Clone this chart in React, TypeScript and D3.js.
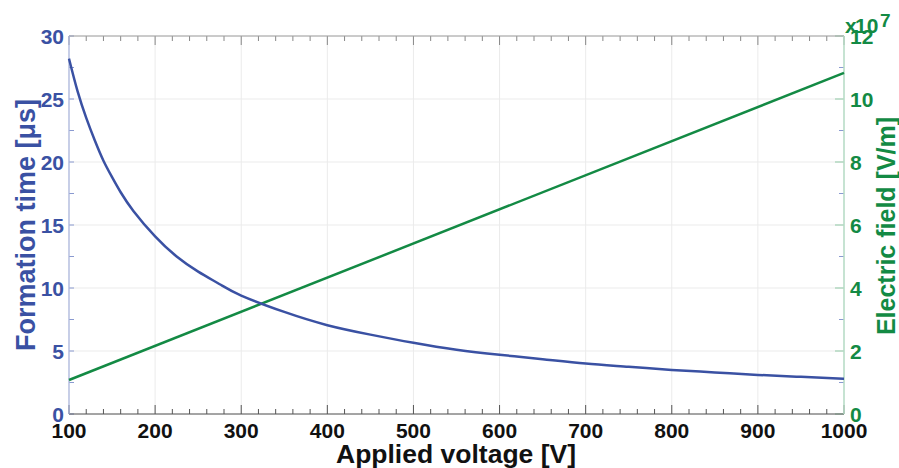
import React from 'react';
import * as d3 from 'd3';

// formation time vs applied voltage
const voltage = [100, 110, 120, 130, 140, 150, 160, 175, 200, 225, 250, 275, 300, 350, 400, 450, 500, 550, 600, 650, 700, 750, 800, 850, 900, 950, 1000];
const formationTime = [28.2, 25.6, 23.5, 21.7, 20.1, 18.8, 17.6, 16.1, 14.1, 12.5, 11.3, 10.3, 9.4, 8.1, 7.05, 6.3, 5.65, 5.1, 4.7, 4.35, 4.0, 3.75, 3.5, 3.3, 3.1, 2.95, 2.8];

// electric field (x1e7 V/m)
const fieldVoltage = [100, 1000];
const electricField = [1.08, 10.83];

const xTicks = [100, 200, 300, 400, 500, 600, 700, 800, 900, 1000];
const leftTicks = [0, 5, 10, 15, 20, 25, 30];
const rightTicks = [0, 2, 4, 6, 8, 10, 12];

const W = 899, H = 468;
const m = { left: 69, right: 844, top: 36, bottom: 414 };
const BLUE = '#3a51a3';
const GREEN = '#138a44';
const FONT = '"Liberation Sans", Arial, sans-serif';

export default function App() {
  const x = d3.scaleLinear().domain([100, 1000]).range([m.left, m.right]);
  const yL = d3.scaleLinear().domain([0, 30]).range([m.bottom, m.top]);
  const yR = d3.scaleLinear().domain([0, 12]).range([m.bottom, m.top]);

  const timeLine = d3.line<number>()
    .x((_, i) => x(voltage[i]))
    .y((d) => yL(d))
    .curve(d3.curveNatural);
  const fieldLine = d3.line<number>()
    .x((_, i) => x(fieldVoltage[i]))
    .y((d) => yR(d));

  const xMinor = d3.range(100, 1001, 20);
  const leftMinor = d3.range(0, 30.01, 2.5);
  const rightMinor = d3.range(0, 12.01, 1);

  return (
    <svg width={W} height={H} style={{ position: 'absolute', left: 0, top: 0, background: '#fff' }}>
      <rect x={0} y={0} width={W} height={H} fill="#fff" />
      {/* grid */}
      {xTicks.map((t) => (
        <line key={'gx' + t} x1={x(t)} x2={x(t)} y1={m.top} y2={m.bottom} stroke="#ebebeb" strokeWidth={1} />
      ))}
      {leftTicks.map((t) => (
        <line key={'gy' + t} x1={m.left} x2={m.right} y1={yL(t)} y2={yL(t)} stroke="#ebebeb" strokeWidth={1} />
      ))}
      {/* x minor / major ticks top and bottom */}
      {xMinor.map((t) => {
        const len = t % 100 === 0 ? 9 : 5;
        return (
          <g key={'xt' + t}>
            <line x1={x(t)} x2={x(t)} y1={m.bottom} y2={m.bottom - len} stroke="#555" strokeWidth={1} />
            <line x1={x(t)} x2={x(t)} y1={m.top} y2={m.top + len} stroke="#888" strokeWidth={1} />
          </g>
        );
      })}
      {/* left minor ticks */}
      {leftMinor.map((t) => (
        <line key={'lt' + t} x1={m.left} x2={m.left + 5} y1={yL(t)} y2={yL(t)} stroke="#8a9ad0" strokeWidth={1} />
      ))}
      {/* right ticks */}
      {rightMinor.map((t) => (
        <line key={'rt' + t} x1={m.right} x2={m.right - (t % 2 === 0 ? 9 : 5)} y1={yR(t)} y2={yR(t)}
          stroke={t % 2 === 0 ? '#8fc9a5' : '#8a9ad0'} strokeWidth={1} />
      ))}
      {/* frame */}
      <line x1={m.left} x2={m.right} y1={m.top} y2={m.top} stroke="#a0a0a0" strokeWidth={1} />
      <line x1={m.left} x2={m.right} y1={m.bottom} y2={m.bottom} stroke="#555" strokeWidth={1} />
      <line x1={m.left} x2={m.left} y1={m.top} y2={m.bottom} stroke="#a9b5de" strokeWidth={1.2} />
      <line x1={m.right} x2={m.right} y1={m.top} y2={m.bottom} stroke="#b6dcc6" strokeWidth={1.5} />

      {/* data */}
      <path d={fieldLine(electricField) || ''} fill="none" stroke={GREEN} strokeWidth={2.5} />
      <path d={timeLine(formationTime) || ''} fill="none" stroke={BLUE} strokeWidth={2.5} />

      {/* x tick labels */}
      {xTicks.map((t) => (
        <text key={'xl' + t} x={x(t)} y={438} textAnchor="middle" fontFamily={FONT} fontWeight="bold" fontSize={21} fill="#111">{t}</text>
      ))}
      {/* left tick labels */}
      {leftTicks.map((t) => (
        <text key={'ll' + t} x={64} y={yL(t) + 8} textAnchor="end" fontFamily={FONT} fontWeight="bold" fontSize={21} fill={BLUE}>{t}</text>
      ))}
      {/* right tick labels */}
      {rightTicks.map((t) => (
        <text key={'rl' + t} x={850} y={yR(t) + 8} textAnchor="start" fontFamily={FONT} fontWeight="bold" fontSize={21} fill={GREEN}>{t}</text>
      ))}
      {/* exponent */}
      <text x={845} y={33} fontFamily={FONT} fontWeight="bold" fontSize={21} fill={GREEN}>x</text>
      <text x={855} y={33} fontFamily={FONT} fontWeight="bold" fontSize={21} fill={GREEN}>10</text>
      <text x={880} y={27} fontFamily={FONT} fontWeight="bold" fontSize={19} fill={GREEN}>7</text>

      {/* axis titles */}
      <text x={456} y={463} textAnchor="middle" fontFamily={FONT} fontWeight="bold" fontSize={26.5} fill="#111">Applied voltage [V]</text>
      <text transform={`translate(35,225) rotate(-90)`} textAnchor="middle" fontFamily={FONT} fontWeight="bold" fontSize={27} fill={BLUE}>Formation time [μs]</text>
      <text transform={`translate(895,226) rotate(-90)`} textAnchor="middle" fontFamily={FONT} fontWeight="bold" fontSize={25} fill={GREEN}>Electric field [V/m]</text>
    </svg>
  );
}
